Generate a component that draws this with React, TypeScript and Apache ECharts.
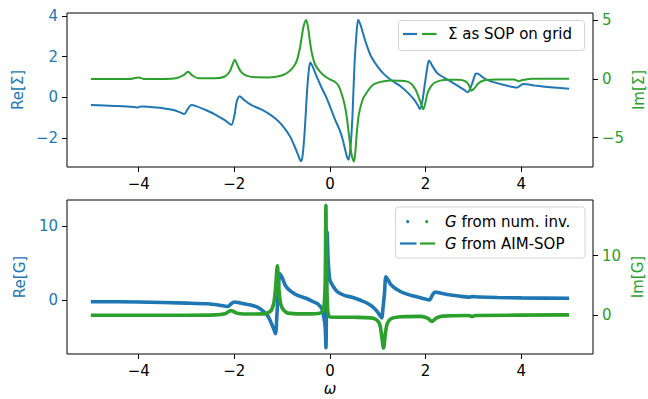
import React, { useEffect, useRef } from "react";
import * as echarts from "echarts";

const BLUE = "#1f77b4";
const GREEN = "#2ca02c";
const FONT = "DejaVu Sans";
const FS = 15;

// ---- top panel: self-energy Sigma ----
const reSigmaW = [-5.0, -4.5, -4.1, -4.02, -3.95, -3.8, -3.5, -3.3, -3.15, -3.05, -2.97, -2.9, -2.8, -2.6, -2.4, -2.2, -2.1, -2.06, -2.0, -1.95, -1.89, -1.8, -1.65, -1.45, -1.3, -1.15, -1.04, -0.93, -0.83, -0.75, -0.68, -0.63, -0.6, -0.57, -0.53, -0.48, -0.44, -0.41, -0.36, -0.28, -0.18, -0.07, 0.0, 0.1, 0.2, 0.27, 0.32, 0.36, 0.39, 0.43, 0.47, 0.51, 0.55, 0.59, 0.64, 0.69, 0.77, 0.86, 1.0, 1.14, 1.3, 1.48, 1.62, 1.76, 1.84, 1.88, 1.93, 1.98, 2.03, 2.07, 2.14, 2.24, 2.38, 2.52, 2.69, 2.8, 2.88, 2.96, 3.04, 3.08, 3.2, 3.35, 3.62, 3.86, 3.92, 3.98, 4.04, 4.3, 4.6, 5.0];
const reSigmaV = [-0.37, -0.42, -0.47, -0.5, -0.44, -0.46, -0.53, -0.61, -0.72, -0.82, -0.55, -0.37, -0.43, -0.62, -0.84, -1.12, -1.3, -1.34, -0.9, -0.2, 0.06, -0.12, -0.37, -0.58, -0.77, -1.02, -1.26, -1.58, -1.94, -2.35, -2.75, -3.05, -3.14, -2.8, -1.7, 0.3, 1.4, 1.72, 1.5, 1.03, 0.5, -0.03, -0.45, -1.05, -1.6, -2.1, -2.6, -2.95, -3.06, -2.4, -0.9, 1.5, 3.0, 3.82, 3.55, 3.16, 2.55, 2.01, 1.5, 1.12, 0.82, 0.54, 0.25, -0.11, -0.4, -0.57, -0.2, 0.6, 1.4, 1.82, 1.55, 1.2, 0.98, 0.79, 0.54, 0.38, 0.25, 0.6, 1.15, 1.18, 0.98, 0.8, 0.62, 0.5, 0.49, 0.58, 0.66, 0.58, 0.5, 0.43];

const imSigmaW = [-5.0, -4.2, -4.0, -3.9, -3.5, -3.2, -3.07, -2.97, -2.88, -2.75, -2.4, -2.2, -2.1, -2.04, -1.99, -1.94, -1.86, -1.75, -1.55, -1.3, -1.1, -0.97, -0.85, -0.76, -0.69, -0.63, -0.59, -0.55, -0.5, -0.46, -0.42, -0.38, -0.31, -0.21, -0.1, 0.0, 0.1, 0.18, 0.24, 0.3, 0.35, 0.4, 0.45, 0.5, 0.53, 0.56, 0.6, 0.65, 0.7, 0.76, 0.85, 0.93, 1.1, 1.28, 1.45, 1.62, 1.72, 1.79, 1.85, 1.9, 1.95, 1.99, 2.04, 2.1, 2.17, 2.3, 2.45, 2.69, 2.83, 2.9, 2.96, 3.02, 3.1, 3.21, 3.5, 3.85, 3.95, 4.02, 4.24, 5.0];
const imSigmaV = [-0.02, -0.02, 0.12, 0.0, 0.0, 0.08, 0.3, 0.6, 0.3, 0.05, 0.05, 0.2, 0.6, 1.2, 1.62, 1.2, 0.6, 0.28, 0.13, 0.12, 0.2, 0.35, 0.65, 1.05, 1.6, 2.6, 3.6, 4.5, 5.0, 4.4, 3.2, 2.2, 1.2, 0.62, 0.2, -0.05, -0.25, -0.6, -1.22, -2.1, -3.2, -4.9, -6.4, -7.03, -6.2, -4.6, -3.1, -2.2, -1.6, -1.22, -0.7, -0.42, -0.22, -0.14, -0.15, -0.23, -0.5, -0.93, -1.5, -2.07, -2.58, -2.1, -1.22, -0.7, -0.37, -0.15, -0.08, -0.08, -0.2, -0.5, -1.0, -0.8, -0.4, -0.14, -0.05, -0.05, -0.2, -0.1, 0.02, 0.02];

// ---- bottom panel: Green's function G ----
const reGW = [-5.0, -4.0, -3.0, -2.55, -2.3, -2.14, -2.06, -2.0, -1.9, -1.66, -1.5, -1.38, -1.3, -1.24, -1.18, -1.14, -1.11, -1.08, -1.05, -1.0, -0.93, -0.83, -0.69, -0.5, -0.35, -0.25, -0.17, -0.13, -0.1, -0.085, -0.06, -0.04, -0.02, 0.0, 0.07, 0.15, 0.3, 0.48, 0.65, 0.79, 0.9, 1.0, 1.05, 1.08, 1.11, 1.14, 1.17, 1.22, 1.28, 1.4, 1.55, 1.75, 1.97, 2.08, 2.13, 2.2, 2.3, 2.45, 2.69, 2.9, 2.97, 3.1, 3.5, 4.0, 5.0];
const reGV = [-0.27, -0.3, -0.45, -0.55, -0.75, -0.92, -0.5, -0.3, -0.4, -0.72, -1.05, -1.62, -2.2, -2.97, -3.9, -4.6, -2.0, 1.5, 3.5, 3.0, 1.9, 1.2, 0.63, 0.2, -0.27, -0.6, -1.25, -2.3, -3.8, -6.5, 9.2, 5.5, 3.6, 2.6, 1.8, 1.1, 0.6, 0.3, -0.1, -0.5, -1.0, -1.7, -2.2, -2.45, -1.0, 0.9, 3.1, 2.6, 2.0, 1.4, 0.9, 0.5, 0.15, -0.02, 0.5, 1.06, 0.9, 0.72, 0.5, 0.35, 0.42, 0.38, 0.3, 0.25, 0.2];

const imGW = [-5.0, -3.0, -2.4, -2.2, -2.07, -1.95, -1.8, -1.4, -1.25, -1.18, -1.14, -1.1, -1.07, -1.03, -0.97, -0.88, -0.6, -0.3, -0.16, -0.12, -0.1, -0.085, -0.07, -0.05, -0.03, 0.0, 0.5, 0.85, 0.97, 1.04, 1.08, 1.12, 1.16, 1.2, 1.28, 1.5, 1.9, 2.05, 2.13, 2.22, 2.35, 2.9, 2.97, 3.05, 5.0];
const imGV = [-0.05, -0.05, 0.0, 0.2, 0.73, 0.3, 0.15, 0.17, 0.6, 1.8, 4.5, 8.3, 4.5, 1.8, 0.8, 0.3, 0.17, 0.2, 0.5, 1.97, 6.0, 18.5, 6.0, 1.0, 0.0, -0.35, -0.4, -0.5, -0.8, -1.6, -3.5, -5.6, -3.0, -1.4, -0.62, -0.3, -0.25, -0.6, -1.1, -0.55, -0.2, -0.1, -0.25, -0.1, 0.0];

const xTicks = [-4, -2, 0, 2, 4];
const reSigmaTicks = [-2, 0, 2, 4];
const imSigmaTicks = [-5, 0, 5];
const reGTicks = [0, 10];
const imGTicks = [0, 10];

const zip = (w: number[], v: number[]) => w.map((x, i) => [x, v[i]]);
const fmt = (v: number) => (v < 0 ? "\u2212" + Math.abs(v) : String(v));

export default function App() {
  const ref = useRef<HTMLDivElement>(null);
  useEffect(() => {
    if (!ref.current) return;
    const chart = echarts.init(ref.current, undefined, { renderer: "svg" });

    const xAxisBase = (gi: number) => ({
      type: "value",
      gridIndex: gi,
      min: -5.5,
      max: 5.5,
      axisLine: { show: false, onZero: false },
      splitLine: { show: false },
      axisTick: { show: true, length: 5, customValues: xTicks, lineStyle: { color: "#000", width: 1 } },
      axisLabel: { customValues: xTicks, formatter: fmt, color: "#000", fontSize: FS, fontFamily: FONT, margin: 9 },
    });
    const yAxisBase = (gi: number, pos: string, min: number, max: number, ticks: number[], color: string) => ({
      type: "value",
      gridIndex: gi,
      position: pos,
      min,
      max,
      axisLine: { show: false, onZero: false },
      splitLine: { show: false },
      axisTick: { show: true, length: 5, customValues: ticks, lineStyle: { color: "#000", width: 1 } },
      axisLabel: { customValues: ticks, formatter: fmt, color, fontSize: FS, fontFamily: FONT, margin: 9 },
    });

    const lineSeries = (name: string, xi: number, yi: number, data: number[][], color: string, width: number, dashed = false, z = 2) => ({
      type: "line",
      name,
      xAxisIndex: xi,
      yAxisIndex: yi,
      data,
      showSymbol: false,
      smooth: 0.3,
      z,
      lineStyle: { color, width, type: dashed ? [7, 3] : "solid" },
      itemStyle: { color },
      silent: true,
    });

    const txt = (text: string, x: number, y: number, color: string, rot = 0, italic = false, extra: any = {}) => ({
      type: "text",
      x,
      y,
      rotation: rot,
      z: 100,
      style: {
        text,
        fill: color,
        fontSize: FS,
        fontFamily: FONT,
        fontStyle: italic ? "italic" : "normal",
        align: "center",
        verticalAlign: "middle",
        ...extra,
      },
    });

    const hline = (x1: number, x2: number, y: number, color: string) => ({
      type: "line",
      z: 101,
      shape: { x1, y1: y, x2, y2: y },
      style: { stroke: color, lineWidth: 2.2 },
    });

    const richItalic = { i: { fontStyle: "italic", fontSize: FS, fontFamily: FONT, fill: "#000" }, n: { fontSize: FS, fontFamily: FONT, fill: "#000" } };

    chart.setOption({
      animation: false,
      backgroundColor: "#fff",
      grid: [
        { left: 67, top: 13, width: 526, height: 154, show: true, borderColor: "#000", borderWidth: 1, backgroundColor: "transparent" },
        { left: 67, top: 200, width: 526, height: 154, show: true, borderColor: "#000", borderWidth: 1, backgroundColor: "transparent" },
      ],
      xAxis: [xAxisBase(0), xAxisBase(1)],
      yAxis: [
        yAxisBase(0, "left", -3.42, 4.15, reSigmaTicks, BLUE),
        yAxisBase(0, "right", -7.49, 5.6, imSigmaTicks, GREEN),
        yAxisBase(1, "left", -7.34, 13.5, reGTicks, BLUE),
        yAxisBase(1, "right", -6.6, 19.4, imGTicks, GREEN),
      ],
      series: [
        lineSeries("Re Σ", 0, 0, zip(reSigmaW, reSigmaV), BLUE, 2, false, 2),
        lineSeries("Im Σ", 0, 1, zip(imSigmaW, imSigmaV), GREEN, 2, false, 3),
        lineSeries("Re G num. inv.", 1, 2, zip(reGW, reGV), BLUE, 3.6, false, 2),
        lineSeries("Re G AIM-SOP", 1, 2, zip(reGW, reGV), BLUE, 2, true, 2),
        lineSeries("Im G num. inv.", 1, 3, zip(imGW, imGV), GREEN, 3.6, false, 3),
        lineSeries("Im G AIM-SOP", 1, 3, zip(imGW, imGV), GREEN, 2, true, 3),
      ],
      graphic: [
        // axis titles
        txt("Re[Σ]", 18, 90, BLUE, Math.PI / 2),
        txt("Im[Σ]", 639, 90, GREEN, Math.PI / 2),
        txt("Re[G]", 20, 277, BLUE, Math.PI / 2),
        txt("Im[G]", 638, 277, GREEN, Math.PI / 2),
        txt("ω", 330, 389, "#000", 0, true),
        // top legend
        {
          type: "rect",
          z: 100,
          shape: { x: 398.5, y: 20.5, width: 186, height: 30, r: 3 },
          style: { fill: "rgba(255,255,255,0.8)", stroke: "#d4d4d4", lineWidth: 1 },
        },
        hline(403, 417, 34, BLUE),
        hline(422, 436.5, 34, GREEN),
        txt("Σ as SOP on grid", 448, 34, "#000", 0, false, { align: "left" }),
        // bottom legend
        {
          type: "rect",
          z: 100,
          shape: { x: 395.5, y: 207, width: 189.5, height: 51, r: 3 },
          style: { fill: "rgba(255,255,255,0.8)", stroke: "#d4d4d4", lineWidth: 1 },
        },
        { type: "circle", z: 101, shape: { cx: 407.7, cy: 221.7, r: 1.6 }, style: { fill: BLUE } },
        { type: "circle", z: 101, shape: { cx: 426.7, cy: 221.7, r: 1.6 }, style: { fill: GREEN } },
        txt("{i|G}{n| from num. inv.}", 445, 222, "#000", 0, false, { align: "left", rich: richItalic }),
        hline(400, 416.5, 243.5, BLUE),
        hline(420, 435, 243.5, GREEN),
        txt("{i|G}{n| from AIM-SOP}", 445, 243.5, "#000", 0, false, { align: "left", rich: richItalic }),
      ],
    });
    return () => chart.dispose();
  }, []);
  return <div ref={ref} style={{ position: "fixed", left: 0, top: 0, width: 648, height: 399 }} />;
}
